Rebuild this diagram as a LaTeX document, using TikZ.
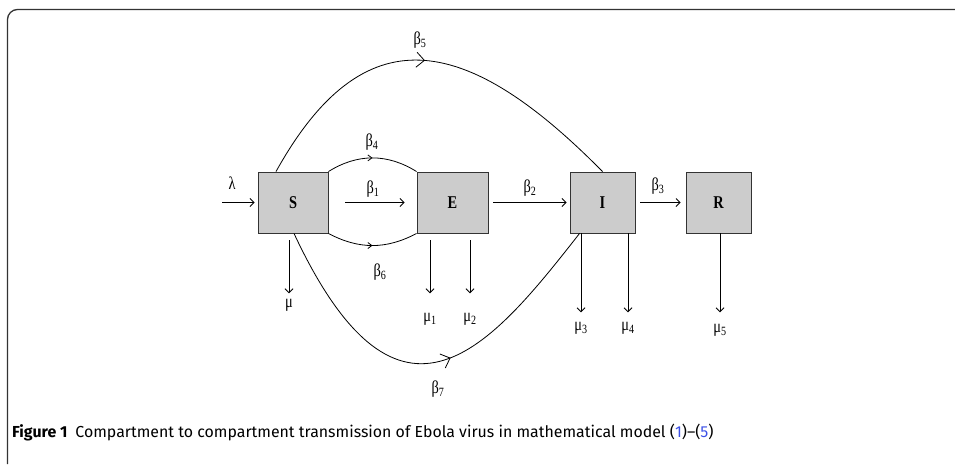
\documentclass[tikz,border=0pt]{standalone}
\usepackage{fontspec}
\setmainfont{Liberation Serif}
\newfontfamily\boxfont{Liberation Serif}[FakeStretch=0.8]
\newfontfamily\capfont{Fira Sans}
\usepackage{tikz}
\usetikzlibrary{arrows.meta, decorations.markings}
\definecolor{boxgray}{RGB}{204,204,204}
\definecolor{reflink}{RGB}{60,80,230}
\tikzstyle{comp} = [rectangle,
minimum height=61pt,
inner sep=0pt,
draw=black!80,
line width=0.9pt,
fill=boxgray,
font=\boxfont\fontsize{18}{18}\selectfont\bfseries]
\tikzstyle{flow} = [line width=0.8pt,-{Straight Barb[length=4pt,width=8pt]}]
\tikzstyle{curve} = [line width=0.8pt]
\tikzstyle{lbl} = [inner sep=0pt, text height=9pt, text depth=4pt,
font=\boxfont\fontsize{18}{18}\selectfont]
\tikzset{
  bigmark/.style={postaction={decorate}, decoration={markings,
      mark=at position #1 with {\arrow{Straight Barb[length=8pt,width=15pt]}}}},
  smallmark/.style={postaction={decorate}, decoration={markings,
      mark=at position 0.5 with {\arrow{Straight Barb[length=4pt,width=6pt]}}}}
}

\begin{document}
\begin{tikzpicture}[x=1pt, y=-1pt]
            \useasboundingbox (0,0) rectangle (955,464);
            \draw[black!80, line width=1.3pt, rounded corners=10pt] (7.5,464) -- (7.5,9.5) -- (955,9.5);

            % compartments
            \node (S) [comp, minimum width=70pt] at (293,202.5) {S};
            \node (E) [comp, minimum width=71pt] at (452.5,202.5) {E};
            \node (I) [comp, minimum width=65pt] at (602.5,202.5) {I};
            \node (R) [comp, minimum width=65pt] at (718.5,202.5) {R};

            % rates
            \node (lam) [lbl] at (232,187) {λ};
            \node (b1) [lbl] at (373,191) {β\textsubscript{1}};
            \node (b2) [lbl] at (530,190) {β\textsubscript{2}};
            \node (b3) [lbl] at (658,188) {β\textsubscript{3}};
            \node (b4) [lbl] at (372,144) {β\textsubscript{4}};
            \node (b5) [lbl] at (420,42) {β\textsubscript{5}};
            \node (b6) [lbl] at (380,274) {β\textsubscript{6}};
            \node (b7) [lbl] at (438,391) {β\textsubscript{7}};
            \node (mu)  [lbl] at (289,305) {μ};
            \node (mu1) [lbl] at (430,319) {μ\textsubscript{1}};
            \node (mu2) [lbl] at (470,319) {μ\textsubscript{2}};
            \node (mu3) [lbl] at (581,328) {μ\textsubscript{3}};
            \node (mu4) [lbl] at (628,328) {μ\textsubscript{4}};
            \node (mu5) [lbl] at (720,330) {μ\textsubscript{5}};

            \coordinate (in) at (222,202.5);
            \draw [flow, shorten >=3pt] (in) -- (S.west);
            \draw [flow, shorten <=17pt, shorten >=12pt] (S.east) -- (E.west);
            \draw [flow, shorten <=5pt, shorten >=3pt] (E.east) -- (I.west);
            \draw [flow, shorten <=5pt, shorten >=5pt] (I.east) -- (R.west);

            \draw [curve, smallmark] (S.north east) to[out=32, in=148] (E.north west);
            \draw [curve, smallmark] (S.south east) to[out=-28, in=-152] (E.south west);
            \draw [curve, bigmark=0.48] ([xshift=-17pt]S.north) .. controls (363,15) and (464,31) .. (I.north);
            \draw [curve, bigmark=0.55] ([xshift=1pt]S.south) .. controls (400,460) and (492,345) .. ([xshift=10pt]I.south west);

            \draw [flow, shorten <=7pt, shorten >=5pt] (S.south -| mu) -- (mu);
            \draw [flow, shorten <=7pt, shorten >=19pt] (E.south -| mu1) -- (mu1);
            \draw [flow, shorten <=7pt, shorten >=19pt] (E.south -| mu2) -- (mu2);
            \draw [flow, shorten >=9pt] (I.south -| mu3) -- (mu3);
            \draw [flow, shorten >=9pt] (I.south -| mu4) -- (mu4);
            \draw [flow, shorten >=11pt] (R.south -| mu5) -- (mu5);

            \node (cap) [anchor=base west, inner sep=0pt, font=\capfont\fontsize{15.9}{15.9}\selectfont] at (12,437)
                {\textbf{Figure 1}\hspace{8pt}Compartment to compartment transmission of Ebola virus in mathematical model (\textcolor{reflink}{1})–(\textcolor{reflink}{5})};
\end{tikzpicture}
\end{document}
